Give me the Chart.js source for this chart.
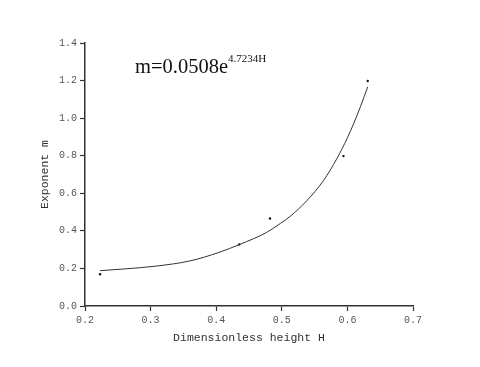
<!DOCTYPE html>
<html>
<head>
<meta charset="utf-8">
<script src="https://cdn.jsdelivr.net/npm/chart.js@4/dist/chart.umd.min.js"></script>
<style>
html,body{margin:0;padding:0;background:#fff;}
#wrap{position:relative;width:480px;height:367px;}
#eq{position:absolute;left:135px;top:56px;font-family:"Liberation Serif","Times New Roman",serif;font-size:20.5px;color:#111;white-space:nowrap;line-height:20px;}
#eq sup{font-size:11px;position:relative;top:-3px;vertical-align:top;line-height:11px;}
</style>
</head>
<body>
<div id="wrap">
<canvas id="c" width="480" height="367"></canvas>
<div id="eq">m=0.0508e<sup>4.7234H</sup></div>
</div>
<script>
// Measured points
const pointH = [0.223, 0.435, 0.482, 0.594, 0.631];
const pointM = [0.169, 0.328, 0.466, 0.798, 1.198];
// Fitted curve
const curveH = [0.223, 0.259, 0.310, 0.360, 0.404, 0.436, 0.477, 0.498, 0.513, 0.538, 0.564, 0.584, 0.600, 0.610, 0.620, 0.631];
const curveM = [0.188, 0.197, 0.213, 0.240, 0.285, 0.328, 0.392, 0.440, 0.478, 0.560, 0.670, 0.785, 0.895, 0.975, 1.062, 1.167];
// Axes
const xTicks = [0.2, 0.3, 0.4, 0.5, 0.6, 0.7];
const yTicks = [0.0, 0.2, 0.4, 0.6, 0.8, 1.0, 1.2, 1.4];
const xTitle = 'Dimensionless height H';
const yTitle = 'Exponent m';

const tickFont = {family: '"Liberation Mono", monospace', size: 10};
const titleFont = {family: '"Liberation Mono", monospace', size: 11.5};

new Chart(document.getElementById('c'), {
  type: 'scatter',
  data: {
    datasets: [
      {
        type: 'line',
        data: curveH.map((h, i) => ({x: h, y: curveM[i]})),
        borderColor: '#333',
        borderWidth: 1,
        pointRadius: 0,
        cubicInterpolationMode: 'monotone',
        fill: false
      },
      {
        data: pointH.map((h, i) => ({x: h, y: pointM[i]})),
        backgroundColor: '#111',
        borderColor: '#111',
        pointRadius: 1.2,
        borderWidth: 0
      }
    ]
  },
  options: {
    responsive: false,
    animation: false,
    layout: {padding: {left: 0, top: 43, right: 67, bottom: 0}},
    plugins: {legend: {display: false}, tooltip: {enabled: false}},
    scales: {
      x: {
        type: 'linear', min: 0.2, max: 0.7,
        afterBuildTicks: s => { s.ticks = xTicks.map(v => ({value: v})); },
        afterFit: s => { s.height = 61; },
        ticks: {font: tickFont, color: '#555', padding: 3, maxRotation: 0, callback: v => v.toFixed(1)},
        grid: {drawOnChartArea: false, tickLength: 5, color: '#333', tickWidth: 1.2},
        border: {color: '#333', width: 1.5},
        title: {display: true, text: xTitle, font: titleFont, color: '#333', padding: {top: 0, bottom: 22}}
      },
      y: {
        type: 'linear', min: 0, max: 1.4,
        afterBuildTicks: s => { s.ticks = yTicks.map(v => ({value: v})); },
        afterFit: s => { s.width = 85; },
        ticks: {font: tickFont, color: '#555', padding: 3, callback: v => v.toFixed(1)},
        grid: {drawOnChartArea: false, tickLength: 5, color: '#333', tickWidth: 1.2},
        border: {color: '#333', width: 1.5},
        title: {display: true, text: yTitle, font: titleFont, color: '#333', padding: {top: 38, bottom: 0}}
      }
    }
  }
});
</script>
</body>
</html>
